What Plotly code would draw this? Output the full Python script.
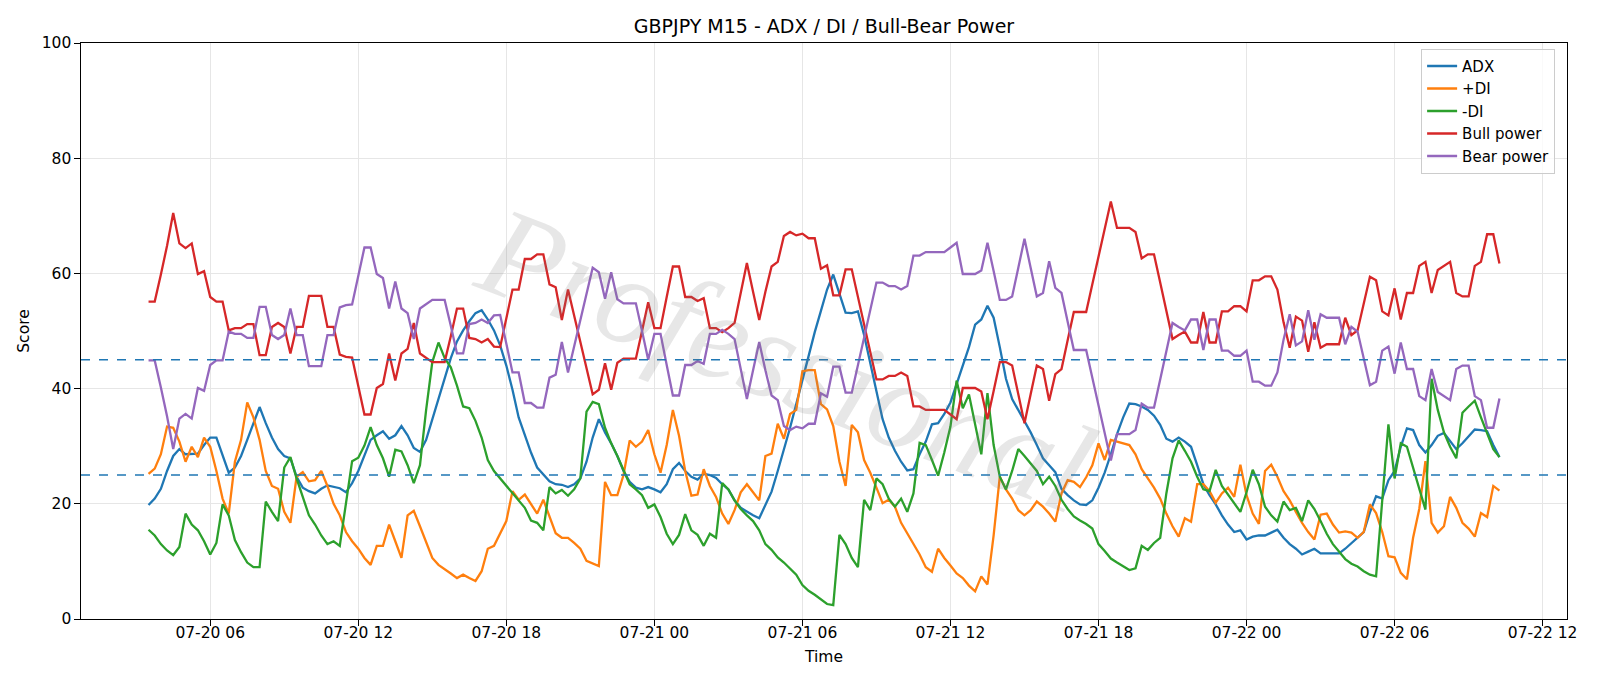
import pandas as pd
import plotly.graph_objects as go

START = "2025-07-20 03:30"
N_POINTS = 220

adx = [19.8, 20.9, 22.6, 25.7, 28.3, 29.5, 28.6, 28.6, 28.7, 30.2,
       31.5, 31.5, 28.6, 25.4, 26.3, 28.3, 31.1, 34.0, 36.8, 34.0,
       31.5, 29.5, 28.3, 27.9, 24.7, 22.8, 22.2, 21.8, 22.6, 23.2,
       23.0, 22.7, 22.0, 23.6, 25.7, 28.3, 31.1, 31.9, 32.6, 31.3,
       31.9, 33.5, 31.9, 29.7, 29.0, 31.1, 34.7, 38.5, 42.1, 45.3,
       48.2, 50.1, 51.7, 53.1, 53.6, 52.0, 50.1, 47.5, 44.0, 39.8,
       35.0, 31.8, 28.9, 26.3, 25.0, 23.9, 23.4, 23.3, 22.9, 23.4,
       24.4, 27.3, 31.5, 34.7, 32.4, 30.5, 28.3, 25.7, 23.8, 22.8,
       22.5, 22.9, 22.5, 22.0, 23.4, 26.0, 27.1, 25.7, 24.7, 24.2,
       25.2, 25.0, 24.5, 23.4, 22.5, 20.6, 19.3, 18.6, 18.0, 17.5,
       19.7, 22.1, 25.7, 29.4, 33.2, 37.3, 41.5, 45.5, 49.8, 53.5,
       57.2, 59.8, 56.6, 53.2, 53.1, 53.4, 49.3, 44.3, 39.5, 34.7,
       31.5, 29.2, 27.3, 25.8, 26.0, 28.6, 30.8, 33.8, 34.0, 35.6,
       37.6, 40.8, 44.0, 47.2, 51.1, 52.0, 54.4, 52.3, 47.2, 41.7,
       38.2, 36.3, 34.4, 32.4, 30.2, 27.9, 26.7, 25.5, 22.6, 21.5,
       20.6, 19.9, 19.8, 20.6, 22.8, 25.4, 28.6, 32.1, 35.0, 37.4,
       37.3, 36.9, 36.3, 35.3, 33.7, 31.3, 30.8, 31.5, 30.8, 29.9,
       26.7, 23.4, 21.5, 19.9, 18.0, 16.4, 15.1, 15.4, 13.8, 14.3,
       14.5, 14.5, 15.0, 15.5, 14.1, 13.0, 12.2, 11.2, 11.7, 12.2,
       11.4, 11.4, 11.4, 11.4, 12.2, 13.2, 14.1, 15.1, 18.5, 21.3,
       20.9, 24.1, 25.7, 29.9, 33.1, 32.8, 30.2, 28.9, 30.2, 31.8,
       32.3, 30.8, 29.5, 30.5, 31.8, 32.9, 32.8, 32.6, 30.2, 28.1]

plus_di = [25.2, 26.1, 28.6, 33.4, 33.2, 30.8, 27.3, 29.9, 28.1, 31.5,
           29.9, 25.7, 20.9, 18.3, 27.3, 31.1, 37.6, 35.0, 31.1, 25.7,
           23.1, 22.6, 18.6, 16.7, 24.7, 25.5, 23.9, 24.1, 25.7, 23.1,
           20.0, 18.0, 15.1, 13.5, 12.2, 10.6, 9.4, 12.7, 12.7, 16.4,
           13.5, 10.6, 18.0, 18.8, 16.1, 13.2, 10.6, 9.4, 8.7, 7.9,
           7.1, 7.7, 7.1, 6.6, 8.3, 12.2, 12.7, 14.8, 17.0, 22.2,
           20.7, 21.6, 19.9, 18.3, 20.7, 17.7, 14.9, 14.1, 14.1, 13.2,
           12.2, 10.1, 9.6, 9.2, 23.8, 21.5, 21.5, 25.0, 31.0, 29.9,
           30.8, 32.8, 28.6, 25.4, 30.2, 36.3, 31.8, 25.7, 21.4, 21.6,
           26.0, 23.1, 21.2, 18.3, 16.5, 18.9, 22.0, 23.4, 22.0, 20.6,
           28.3, 28.7, 33.9, 31.3, 35.6, 36.3, 43.0, 43.2, 43.2, 37.3,
           36.4, 33.5, 27.3, 23.1, 33.7, 32.4, 27.6, 25.4, 22.8, 20.1,
           20.7, 19.5, 16.7, 14.8, 13.0, 11.2, 9.0, 8.2, 12.2, 10.6,
           9.3, 7.9, 7.1, 5.8, 4.8, 7.4, 6.0, 14.5, 24.7, 22.5,
           20.9, 18.9, 18.0, 18.9, 20.4, 19.5, 18.3, 16.9, 21.8, 24.1,
           23.8, 22.9, 24.6, 26.7, 30.5, 27.6, 31.1, 30.8, 30.4, 30.2,
           28.6, 26.0, 24.4, 22.8, 20.9, 18.3, 16.1, 14.3, 17.5, 16.9,
           23.4, 23.4, 22.2, 20.2, 21.8, 22.8, 21.2, 26.8, 21.5, 18.3,
           16.5, 25.7, 26.8, 24.7, 22.2, 20.6, 18.6, 16.7, 15.1, 13.8,
           18.1, 18.3, 16.4, 15.0, 15.2, 15.0, 14.1, 15.1, 19.9, 18.4,
           15.1, 10.9, 10.7, 8.0, 6.9, 14.1, 19.1, 27.4, 16.7, 15.0,
           16.1, 21.2, 19.3, 16.7, 15.7, 14.3, 18.4, 17.7, 23.1, 22.3]

minus_di = [15.5, 14.5, 13.0, 11.9, 11.1, 12.5, 18.3, 16.4, 15.4, 13.5,
            11.2, 13.2, 19.9, 18.0, 13.7, 11.6, 9.8, 9.0, 9.0, 20.4,
            18.6, 17.0, 26.3, 28.1, 24.4, 21.2, 18.0, 16.4, 14.5, 13.0,
            13.5, 12.7, 20.0, 27.4, 28.0, 30.1, 33.3, 30.2, 27.9, 24.7,
            29.4, 29.1, 26.7, 23.6, 26.7, 36.3, 44.6, 48.0, 45.3, 43.7,
            40.5, 36.9, 36.6, 34.4, 31.5, 27.6, 25.7, 24.4, 23.1, 21.8,
            20.6, 19.3, 17.1, 16.7, 15.4, 22.9, 21.8, 22.4, 21.4, 22.5,
            24.4, 36.0, 37.7, 37.3, 33.2, 30.5, 28.3, 26.0, 23.4, 22.5,
            21.5, 19.3, 19.9, 17.7, 14.8, 13.0, 14.6, 18.2, 15.4, 14.6,
            12.7, 14.8, 14.1, 23.6, 22.5, 20.6, 19.1, 18.0, 17.0, 15.4,
            13.0, 12.0, 10.7, 9.8, 8.8, 7.7, 5.9, 4.9, 4.2, 3.4,
            2.6, 2.4, 14.6, 13.0, 10.6, 9.0, 20.7, 18.9, 24.4, 23.4,
            20.9, 19.5, 20.9, 18.6, 21.8, 30.6, 30.2, 27.6, 24.9, 28.9,
            33.4, 41.4, 36.6, 39.0, 33.7, 28.6, 39.2, 30.2, 24.7, 22.5,
            25.7, 29.5, 28.3, 27.0, 25.7, 23.4, 24.7, 23.1, 20.7, 19.1,
            17.8, 17.1, 16.5, 15.7, 13.0, 11.8, 10.5, 9.8, 9.2, 8.5,
            8.8, 12.7, 12.0, 13.2, 14.1, 21.8, 27.9, 31.0, 29.2, 27.3,
            24.7, 22.5, 22.2, 25.9, 23.1, 21.6, 20.1, 18.6, 22.0, 25.9,
            23.4, 19.5, 18.0, 16.9, 20.4, 18.9, 19.3, 17.0, 20.6, 19.1,
            17.0, 14.8, 13.0, 11.6, 10.4, 9.6, 9.1, 8.3, 7.7, 7.4,
            20.6, 33.8, 24.4, 30.5, 29.9, 26.3, 22.5, 19.0, 41.7, 36.3,
            32.4, 29.9, 27.9, 35.8, 36.9, 37.9, 35.0, 32.4, 29.5, 28.1]

bull_power = [55.1, 55.1, 59.8, 64.8, 70.5, 65.2, 64.4, 65.2, 59.9, 60.4,
              55.9, 55.1, 55.1, 50.1, 50.5, 50.5, 51.2, 51.2, 45.8, 45.8,
              50.7, 51.4, 50.7, 46.1, 50.7, 50.7, 56.1, 56.1, 56.1, 50.7,
              50.7, 45.9, 45.5, 45.4, 40.5, 35.5, 35.5, 40.1, 40.8, 46.1,
              41.4, 46.1, 46.9, 51.4, 46.1, 45.3, 44.6, 44.6, 44.6, 49.1,
              53.9, 53.9, 48.8, 48.6, 48.0, 48.6, 47.3, 47.2, 52.3, 57.2,
              57.2, 62.5, 62.5, 63.3, 63.3, 58.1, 57.6, 51.9, 57.2, 52.7,
              48.2, 44.0, 39.0, 39.8, 44.4, 39.8, 44.5, 45.2, 45.2, 45.2,
              50.0, 55.0, 50.5, 50.5, 55.9, 61.2, 61.2, 55.9, 55.9, 55.2,
              55.7, 50.5, 50.5, 49.8, 50.5, 51.4, 56.6, 61.8, 56.8, 51.9,
              56.8, 61.2, 62.0, 66.5, 67.2, 66.6, 66.9, 66.1, 66.1, 60.8,
              61.4, 56.2, 56.2, 60.7, 60.7, 55.9, 51.1, 46.4, 41.6, 41.6,
              42.2, 42.2, 42.8, 42.2, 36.9, 36.9, 36.3, 36.3, 36.3, 36.3,
              35.5, 34.7, 40.1, 40.1, 40.1, 39.5, 34.7, 39.6, 44.6, 44.6,
              44.0, 39.0, 34.0, 39.0, 44.0, 43.4, 37.9, 42.5, 43.4, 48.4,
              53.3, 53.3, 53.3, 58.1, 62.9, 67.7, 72.5, 67.9, 67.9, 67.9,
              67.2, 62.6, 63.3, 63.3, 58.4, 53.5, 48.6, 49.3, 49.9, 48.0,
              48.0, 53.3, 48.0, 48.0, 53.4, 53.4, 54.3, 54.3, 53.4, 58.8,
              58.8, 59.5, 59.5, 57.2, 51.5, 47.1, 52.5, 51.8, 46.4, 51.5,
              47.1, 47.7, 47.7, 47.7, 52.3, 49.3, 50.1, 54.7, 59.4, 58.8,
              53.4, 52.7, 57.4, 52.0, 56.6, 56.6, 61.3, 62.0, 56.6, 60.6,
              61.3, 62.0, 56.6, 56.0, 56.0, 61.3, 62.0, 66.8, 66.8, 61.7]

bear_power = [44.9, 44.9, 40.2, 35.2, 29.5, 34.8, 35.6, 34.8, 40.1, 39.6,
              44.1, 44.9, 44.9, 49.9, 49.5, 49.5, 48.8, 48.8, 54.2, 54.2,
              49.3, 48.6, 49.3, 53.9, 49.3, 49.3, 43.9, 43.9, 43.9, 49.3,
              49.3, 54.1, 54.5, 54.6, 59.5, 64.5, 64.5, 59.9, 59.2, 53.9,
              58.6, 53.9, 53.1, 48.6, 53.9, 54.7, 55.4, 55.4, 55.4, 50.9,
              46.1, 46.1, 51.2, 51.4, 52.0, 51.4, 52.7, 52.8, 47.7, 42.8,
              42.8, 37.5, 37.5, 36.7, 36.7, 41.9, 42.4, 48.1, 42.8, 47.3,
              51.8, 56.0, 61.0, 60.2, 55.6, 60.2, 55.5, 54.8, 54.8, 54.8,
              50.0, 45.0, 49.5, 49.5, 44.1, 38.8, 38.8, 44.1, 44.1, 44.8,
              44.3, 49.5, 49.5, 50.2, 49.5, 48.6, 43.4, 38.2, 43.2, 48.1,
              43.2, 38.8, 38.0, 33.5, 32.8, 33.4, 33.1, 33.9, 33.9, 39.2,
              38.6, 43.8, 43.8, 39.3, 39.3, 44.1, 48.9, 53.6, 58.4, 58.4,
              57.8, 57.8, 57.2, 57.8, 63.1, 63.1, 63.7, 63.7, 63.7, 63.7,
              64.5, 65.3, 59.9, 59.9, 59.9, 60.5, 65.3, 60.4, 55.4, 55.4,
              56.0, 61.0, 66.0, 61.0, 56.0, 56.6, 62.1, 57.5, 56.6, 51.6,
              46.7, 46.7, 46.7, 41.9, 37.1, 32.3, 27.5, 32.1, 32.1, 32.1,
              32.8, 37.4, 36.7, 36.7, 41.6, 46.5, 51.4, 50.7, 50.1, 52.0,
              52.0, 46.7, 52.0, 52.0, 46.6, 46.6, 45.7, 45.7, 46.6, 41.2,
              41.2, 40.5, 40.5, 42.8, 48.5, 52.9, 47.5, 48.2, 53.6, 48.5,
              52.9, 52.3, 52.3, 52.3, 47.7, 50.7, 49.9, 45.3, 40.6, 41.2,
              46.6, 47.3, 42.6, 48.0, 43.4, 43.4, 38.7, 38.0, 43.4, 39.4,
              38.7, 38.0, 43.4, 44.0, 44.0, 38.7, 38.0, 33.2, 33.2, 38.3]

thresholds = [45, 25]
series_names = ["ADX", "+DI", "-DI", "Bull power", "Bear power"]
series_colors = ["#1f77b4", "#ff7f0e", "#2ca02c", "#d62728", "#9467bd"]
y_ticks = [0, 20, 40, 60, 80, 100]

times = pd.date_range(START, periods=N_POINTS, freq="15min")
span = times[-1] - times[0]
x_range = [times[0] - span * 0.05, times[-1] + span * 0.05]

FONT = "DejaVu Sans"

fig = go.Figure()
for name, color, vals in zip(series_names, series_colors,
                             [adx, plus_di, minus_di, bull_power, bear_power]):
    fig.add_trace(go.Scatter(x=times, y=vals, mode="lines", name=name,
                             line=dict(color=color, width=2.3)))

for t in thresholds:
    fig.add_shape(type="line", xref="paper", x0=0, x1=1, yref="y", y0=t, y1=t,
                  line=dict(color="#1f77b4", width=1.5, dash="dash"))

fig.add_annotation(text="Professional", xref="paper", yref="paper",
                   x=0.475, y=0.45, showarrow=False, textangle=21,
                   font=dict(family="Liberation Serif", size=128,
                             color="rgba(120,120,120,0.18)", style="italic"))

fig.update_layout(
    width=1600, height=686,
    paper_bgcolor="white", plot_bgcolor="white",
    margin=dict(l=81, r=33, t=43, b=67),
    font=dict(family=FONT, size=15.5, color="black"),
    title=dict(text="GBPJPY M15 - ADX / DI / Bull-Bear Power",
               x=0.5, xref="paper", xanchor="center",
               y=1 - 26.5 / 686, yref="container", yanchor="middle",
               font=dict(family=FONT, size=19, color="black")),
    showlegend=True,
    legend=dict(x=0.992, y=0.99, xanchor="right", yanchor="top",
                bgcolor="rgba(255,255,255,0.8)", bordercolor="#cccccc",
                borderwidth=1, font=dict(family=FONT, size=15),
                tracegroupgap=0),
)

fig.update_xaxes(
    range=x_range, type="date",
    tick0="2025-07-20 00:00", dtick=6 * 3600 * 1000, tickformat="%m-%d %H",
    showgrid=True, gridcolor="#e6e6e6", gridwidth=1.2,
    showline=True, linecolor="black", linewidth=1.3, mirror=True,
    ticks="outside", ticklen=5.5, tickwidth=1.2, tickcolor="black",
    ticklabelstandoff=-6,
    title=dict(text="Time", font=dict(family=FONT, size=15.5), standoff=9),
    zeroline=False,
)
fig.update_yaxes(
    range=[0, 100], tickvals=y_ticks,
    showgrid=True, gridcolor="#e6e6e6", gridwidth=1.2,
    showline=True, linecolor="black", linewidth=1.3, mirror=True,
    ticks="outside", ticklen=5.5, tickwidth=1.2, tickcolor="black",
    title=dict(text="Score", font=dict(family=FONT, size=15.5), standoff=8),
    zeroline=False,
)

fig.write_html("out.html")
